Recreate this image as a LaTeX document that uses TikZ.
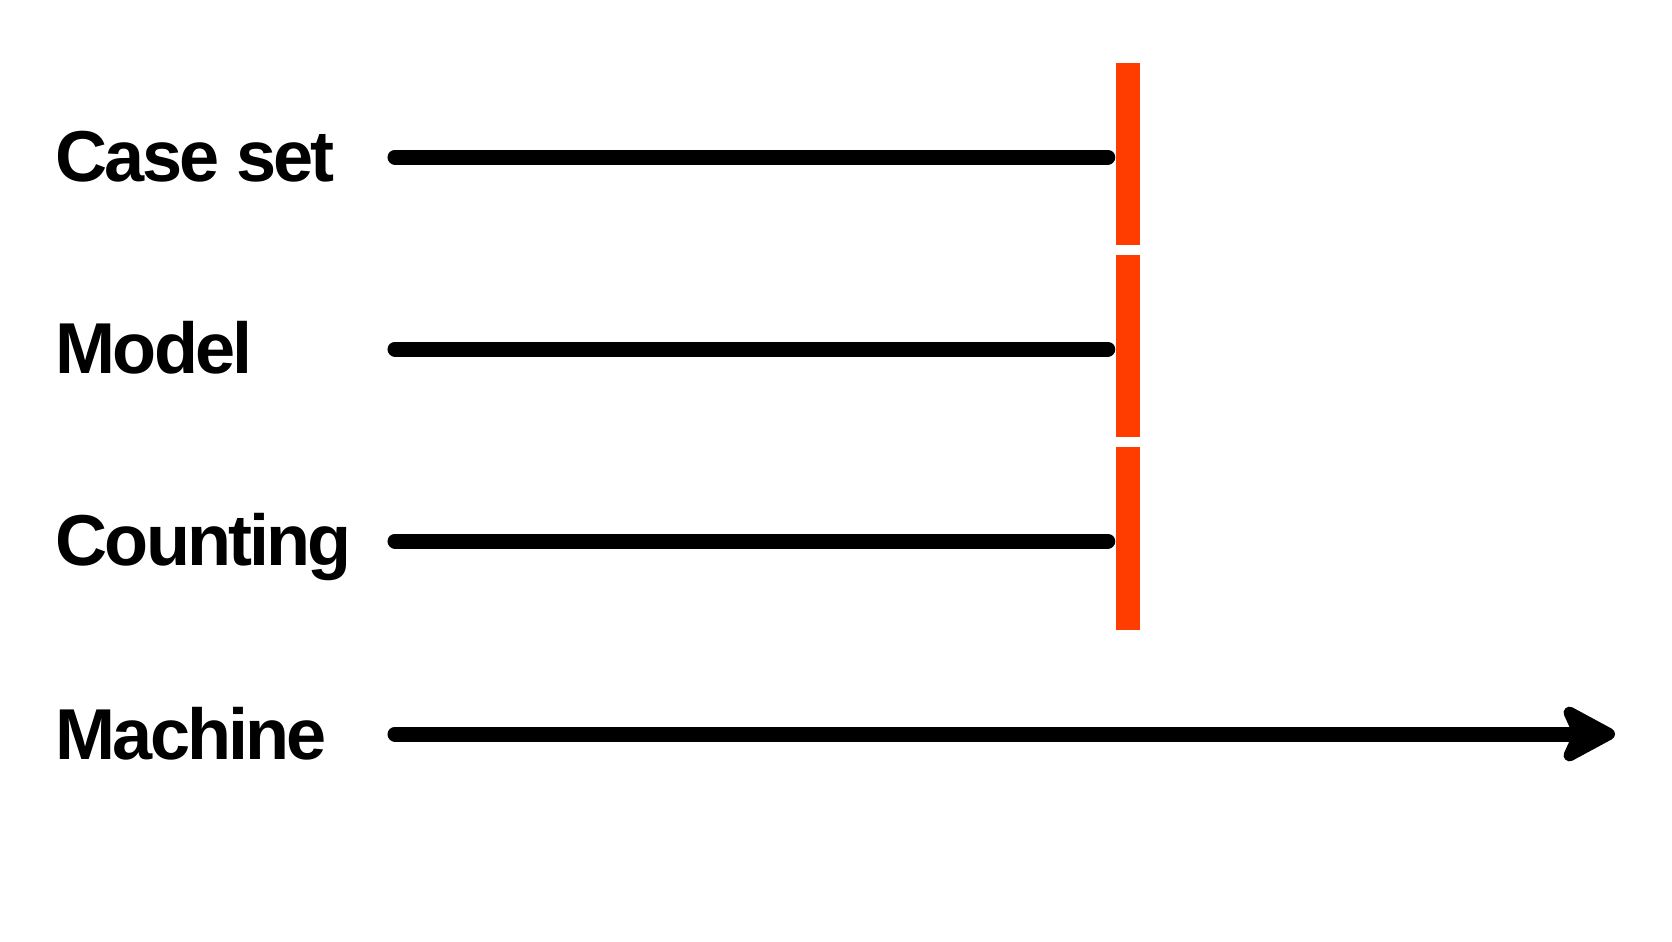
\documentclass[tikz,border=0pt]{standalone}
\usepackage{fontspec}
\setmainfont{Liberation Sans}
\usetikzlibrary{arrows.meta}
\definecolor{barRed}{RGB}{255,61,0}
\tikzstyle{rowLabel} = [
 anchor = base west,
 inner sep = 0pt,
 font = \fontsize{20.5}{25}\selectfont\addfontfeatures{LetterSpace=-4}\bfseries
]
\tikzstyle{timeLine} = [
 draw = black,
 line width = 0.15cm,
 line cap = round
]
\tikzstyle{stopBar} = [
 rectangle,
 fill = barRed,
 inner sep = 0pt,
 minimum width = 0.24cm,
 minimum height = 1.82cm
]

\begin{document}
\begin{tikzpicture}[x=0.01cm, y=-0.01cm]
  \useasboundingbox (0,0) rectangle (1672,941);
  \node [rowLabel] (caseset) at (55,181) {Case set};
  \node [rowLabel] (model) at (55,373) {Model};
  \node [rowLabel] (counting) at (55,565) {Counting};
  \node [rowLabel] (machine) at (55,759) {Machine};
  \node [stopBar] (bar1) at (1128,154) {};
  \node [stopBar] (bar2) at (1128,346) {};
  \node [stopBar] (bar3) at (1128,538.5) {};
  \coordinate (s1) at (395,157);
  \coordinate (s2) at (395,349);
  \coordinate (s3) at (395,541);
  \coordinate (s4) at (395,734);
  \coordinate (end) at (1615,734);
  \draw [timeLine, shorten >= 0.075cm] (s1) -- (s1 -| bar1.west);
  \draw [timeLine, shorten >= 0.075cm] (s2) -- (s2 -| bar2.west);
  \draw [timeLine, shorten >= 0.075cm] (s3) -- (s3 -| bar3.west);
  \draw [timeLine, -{Stealth[length=0.64cm, width=0.68cm, inset=0.15cm, round, line width=0.12cm]}] (s4) -- (end);
\end{tikzpicture}
\end{document}
